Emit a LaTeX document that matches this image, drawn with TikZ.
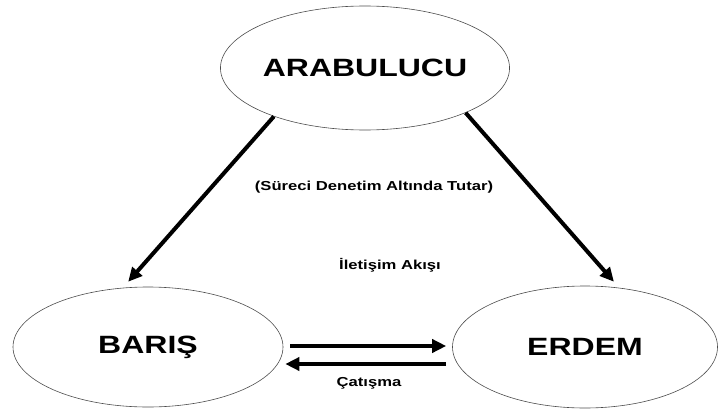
\documentclass[tikz,border=0pt]{standalone}
\usepackage{fontspec}
\setmainfont{Liberation Sans}
\newfontfamily\wideface[FakeStretch=1.28]{Liberation Sans}
\usetikzlibrary{shapes.geometric,arrows.meta}
\begin{document}
\begin{tikzpicture}[x=1pt,y=-1pt,
  party/.style={draw=black!70, ellipse, line width=0.6pt, inner sep=0pt,
    font=\wideface\bfseries\fontsize{25}{28}\selectfont},
  flow/.style={line width=4pt, -{Triangle[length=14pt,width=13pt]}},
  note/.style={font=\wideface\bfseries\fontsize{13}{15}\selectfont}]
\useasboundingbox (0,0) rectangle (719,409);

\node[party, minimum width=270pt, minimum height=124pt] (arb) at (365,68) {ARABULUCU};
\node[party, minimum width=270pt, minimum height=120pt] (baris) at (148,347) {BARIŞ};
\node[party, minimum width=265pt, minimum height=122pt] (erdem) at (585,347) {ERDEM};

\node[note] (ctrl) at (374,187) {(Süreci Denetim Altında Tutar)};
\node[note] (comm) at (390,265) {İletişim Akışı};
\node[note] (clash) at (369,383) {Çatışma};

\draw[flow, shorten >=8pt] (arb.208.6) -- (baris.113);
\draw[flow, shorten >=8pt] (arb.336) -- (erdem.60);

\draw[flow] ([xshift=7pt,yshift=1pt]baris.east) -- ([xshift=-6pt,yshift=1pt]erdem.west);
\draw[flow] ([xshift=-6pt,yshift=-17pt]erdem.west) -- ([xshift=2pt,yshift=-17pt]baris.east);
\end{tikzpicture}
\end{document}
